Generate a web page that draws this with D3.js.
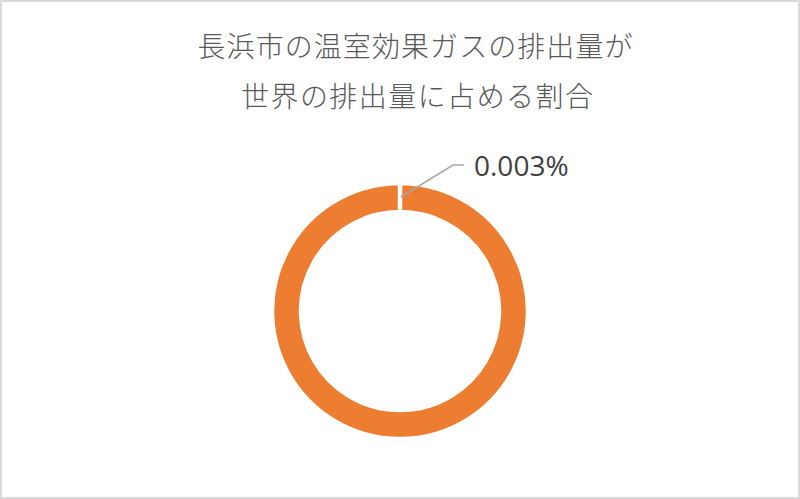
<!DOCTYPE html>
<html><head><meta charset="utf-8">
<script src="https://cdn.jsdelivr.net/npm/d3@7"></script>
<style>
html,body{margin:0;padding:0;background:#fff;}
svg{display:block;}
</style></head>
<body>
<script>
const titleLines = ["長浜市の温室効果ガスの排出量が", "世界の排出量に占める割合"];
const categories = ["長浜市", "その他"];
const values = [0.003, 99.997];
const labels = ["0.003%"];

const W = 800, H = 499;
const svg = d3.select("body").append("svg").attr("width", W).attr("height", H);
svg.append("rect").attr("x", 1).attr("y", 1).attr("width", W - 2).attr("height", H - 2)
  .attr("fill", "#fff").attr("stroke", "#d9d9d9").attr("stroke-width", 2);

const titleX = [415, 417], titleLen = [435, 352];
svg.selectAll("text.title").data(titleLines).enter().append("text")
  .attr("class", "title")
  .attr("x", (d, i) => titleX[i]).attr("y", (d, i) => 57 + i * 50)
  .attr("text-anchor", "middle")
  .attr("textLength", (d, i) => titleLen[i])
  .attr("lengthAdjust", "spacing")
  .attr("font-family", "'Noto Sans CJK JP', sans-serif")
  .attr("font-weight", 300)
  .attr("font-size", 28)
  .attr("fill", "#595959")
  .text(d => d);

const cx = 400, cy = 311, rOuter = 128, rInner = 99;
const pie = d3.pie().sort(null).value(d => d);
const arcs = pie(values);
const arc = d3.arc().innerRadius(rInner).outerRadius(rOuter);
const colors = ["#ed7d31", "#ed7d31"];
const g = svg.append("g").attr("transform", `translate(${cx},${cy})`);
g.selectAll("path").data(arcs).enter().append("path")
  .attr("d", arc)
  .attr("fill", (d, i) => colors[i])
  .attr("stroke", "#fff")
  .attr("stroke-width", 4.5);

// leader line and label for the small slice
const start = [cx + 1, cy - 114];
const elbow = [cx + 53, cy - 146];
const end = [cx + 64, cy - 146];
svg.append("polyline")
  .attr("points", [start, elbow, end].map(p => p.join(",")).join(" "))
  .attr("fill", "none").attr("stroke", "#a6a6a6").attr("stroke-width", 1.5);
svg.append("text")
  .attr("x", end[0] + 10).attr("y", cy - 135)
  .attr("font-family", "'Open Sans', sans-serif")
  .attr("font-size", 28)
  .attr("fill", "#404040")
  .text(labels[0]);
</script>
</body></html>
